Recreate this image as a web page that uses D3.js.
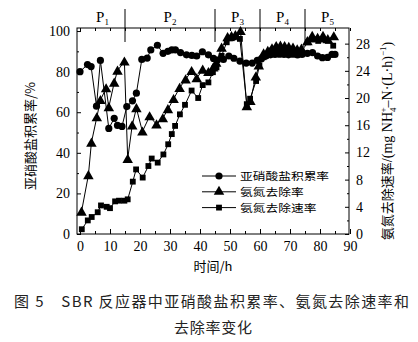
<!DOCTYPE html>
<html><head><meta charset="utf-8">
<script src="https://cdn.jsdelivr.net/npm/d3@7"></script>
<style>body{margin:0;background:#fff}svg{display:block}</style>
</head><body>
<script>
// ---- data ----
const nitriteTime = [0, 2.5, 3.7, 5.5, 6.8, 9.6, 11.4, 12.5, 14,
  15.6, 17.5, 18.8, 20.6, 22.4, 23.6, 25.8, 27.7, 29.3, 30.6, 31.8, 33.5, 35.5, 37.3, 38.9, 40.8, 42.8, 44.5,
  45.8, 47.8, 49.6, 51.3, 53.3, 55.4, 57.4, 59.1,
  60.5, 62, 63.5, 65, 66.5, 68, 69.5, 71, 72.5, 74,
  75.8, 77.5, 79.2, 80.8, 82.5, 84, 85];
const nitriteRate = [80, 83.5, 82.5, 63, 85.5, 52, 57, 53.5, 53,
  62.8, 65.6, 69.4, 86, 86.7, 90.7, 93, 89, 90, 90.7, 90.7, 89.4, 88.3, 88, 87.7, 89.8, 88.3, 86.5,
  85.7, 86, 87.7, 86.6, 85.2, 84.2, 84.2, 85.5,
  86.4, 87.7, 88.3, 88.5, 88.6, 88.5, 88.3, 88.6, 88.2, 88.5,
  89, 89.4, 87.7, 86.9, 87, 88.5, 88.5];
const removalTime = [0.5, 2.8, 3.8, 5.6, 6.8, 8.7, 9.6, 11.4, 12.5, 14.8,
  15.9, 17.4, 18.8, 20.8, 23.2, 25.5, 27.6, 29.3, 31.2, 33.2, 35.2, 37.2, 38.9, 40.9, 42.8, 44.4,
  45.4, 47.2, 49.2, 50.5, 51.8, 53.5, 55.6, 56.8, 58.6, 59.6,
  61.2, 62.6, 64, 65.4, 66.8, 68.2, 69.6, 71, 72.4, 73.8,
  75.8, 77.4, 79.2, 81, 82.6, 84.6];
const removalRate = [11, 29, 45, 57.5, 66, 71.8, 62.5, 74.6, 80.5, 85,
  37, 53.5, 62, 50.5, 58, 54, 57, 61.5, 66.5, 72, 76.2, 80.3, 76.7, 81, 79.8, 82,
  84.4, 91.8, 97, 97.5, 98, 100, 63, 65.6, 77.6, 83,
  89, 90.2, 91.5, 92.6, 92.8, 92.6, 92.2, 91.8, 91, 91.3,
  95, 97.6, 96.7, 97.6, 96, 97.4];
const speedTime = [0.6, 2.6, 3.9, 5.9, 7, 8.9, 10, 11.7, 13, 14.8,
  15.9, 17.6, 18.7, 20.9, 22.8, 23.9, 25.9, 27.8, 29.4, 30.6, 31.7, 33.3, 35, 37.2, 39.4, 40.9, 42.8, 44.3,
  45.5, 47.2, 48.9, 50.6, 52, 53.3, 55.6, 56.7, 58.7, 59.8,
  61.2, 62.6, 64, 65.4, 66.8, 68.2, 69.6, 71, 72.4, 73.8,
  76, 77.6, 79.4, 81, 82.6, 84.4];
const speedValue = [0.7, 2.0, 2.5, 3.2, 4.2, 4.0, 3.8, 4.8, 4.9, 4.9,
  5.1, 7.7, 9.5, 8.3, 10, 11.1, 10.5, 11.7, 13.2, 14.7, 15.9, 17.6, 19, 21.1, 20, 21.9, 22.3, 23.8,
  24.5, 26.2, 28.2, 28.8, 29, 28.7, 19.1, 19.9, 22.5, 24.8,
  26, 26.5, 27, 27.2, 27.2, 27.1, 27, 26.9, 26.8, 26.9,
  28.2, 28.6, 28.4, 28.6, 28.4, 27.7];
const xTicks = [0, 10, 20, 30, 40, 50, 60, 70, 80, 90];
const leftTicks = [0, 20, 40, 60, 80, 100];
const rightTicks = [0, 4, 8, 12, 16, 20, 24, 28];
const phaseBounds = [15, 45, 60, 75];
const phaseNames = ["1", "2", "3", "4", "5"];
const phaseCenters = [7.5, 30, 52.5, 67.5, 82.5];
const seriesNames = ["亚硝酸盐积累率", "氨氮去除率", "氨氮去除速率"];

// ---- drawing ----
const W = 418, H = 342;
const L = 77, R = 349, T = 28, B = 234;
const svg = d3.select("body").append("svg").attr("width", W).attr("height", H);
const x = d3.scaleLinear().domain([-1, 90]).range([L + 0, R + 1]);
const yL = d3.scaleLinear().domain([0, 101.5]).range([B, T]);
const yR = d3.scaleLinear().domain([0, 30.3]).range([B, T]);
const serif = "'Liberation Serif','Times New Roman',serif";
const cjk = "'Noto Sans CJK SC','Noto Sans CJK JP',sans-serif";

function styleAxis(g, size) {
  g.select(".domain").remove();
  g.selectAll("line").attr("stroke", "#000").attr("stroke-width", 1);
  g.selectAll("text").attr("font-family", serif).attr("font-size", size).attr("fill", "#000");
}
// bottom
const gB = svg.append("g").attr("transform", `translate(0,${B})`);
gB.call(d3.axisBottom(x).tickValues(xTicks).tickSizeInner(-5).tickSizeOuter(0).tickPadding(7).tickFormat(d3.format("d")));
styleAxis(gB, 14);
const gBm = svg.append("g").attr("transform", `translate(0,${B})`);
gBm.call(d3.axisBottom(x).tickValues(d3.range(5, 90, 10)).tickSizeInner(-3).tickSizeOuter(0).tickFormat(""));
styleAxis(gBm, 14);
// top
const gT = svg.append("g").attr("transform", `translate(0,${T})`);
gT.call(d3.axisTop(x).tickValues(d3.range(0, 91, 5)).tickSizeInner(-3).tickSizeOuter(0).tickFormat(""));
styleAxis(gT, 14);
// left
const gL = svg.append("g").attr("transform", `translate(${L},0)`);
gL.call(d3.axisLeft(yL).tickValues(leftTicks).tickSizeInner(-4).tickSizeOuter(0).tickPadding(7));
styleAxis(gL, 14);
const gLm = svg.append("g").attr("transform", `translate(${L},0)`);
gLm.call(d3.axisLeft(yL).tickValues(d3.range(10, 100, 20)).tickSizeInner(-2).tickSizeOuter(0).tickFormat(""));
styleAxis(gLm, 14);
// right
const gR = svg.append("g").attr("transform", `translate(${R},0)`);
gR.call(d3.axisRight(yR).tickValues(rightTicks).tickSizeInner(-4).tickSizeOuter(0).tickPadding(7));
styleAxis(gR, 14);
const gRm = svg.append("g").attr("transform", `translate(${R},0)`);
gRm.call(d3.axisRight(yR).tickValues(d3.range(2, 30, 4)).tickSizeInner(-2).tickSizeOuter(0).tickFormat(""));
styleAxis(gRm, 14);
// frame
svg.append("rect").attr("x", L).attr("y", T).attr("width", R - L).attr("height", B - T)
  .attr("fill", "none").attr("stroke", "#000").attr("stroke-width", 1);

// phase dividers and labels
svg.selectAll(".phase").data(phaseBounds).enter().append("line")
  .attr("x1", d => x(d)).attr("x2", d => x(d)).attr("y1", 9).attr("y2", 42)
  .attr("stroke", "#000").attr("stroke-width", 1);
phaseCenters.forEach((c, i) => {
  const t = svg.append("text").attr("x", x(c)).attr("y", 22).attr("text-anchor", "middle")
    .attr("font-family", serif).attr("font-size", 15).attr("fill", "#000");
  t.append("tspan").text("P");
  t.append("tspan").attr("font-size", 9).attr("dy", 3).text(phaseNames[i]);
});

// series
const line = (xs, ys, yScale) => d3.line()(xs.map((t, i) => [x(t), yScale(ys[i])]));
const gS = svg.append("g");
gS.append("path").attr("d", line(nitriteTime, nitriteRate, yL)).attr("fill", "none").attr("stroke", "#000").attr("stroke-width", 1);
gS.append("path").attr("d", line(removalTime, removalRate, yL)).attr("fill", "none").attr("stroke", "#000").attr("stroke-width", 1);
gS.append("path").attr("d", line(speedTime, speedValue, yR)).attr("fill", "none").attr("stroke", "#000").attr("stroke-width", 1);

const tri = d3.symbol().type(d3.symbolTriangle).size(48)();
const sq = d3.symbol().type(d3.symbolSquare).size(34)();
gS.selectAll(".c").data(nitriteTime).enter().append("circle")
  .attr("cx", d => x(d)).attr("cy", (d, i) => yL(nitriteRate[i])).attr("r", 3.6).attr("fill", "#000");
gS.selectAll(".t").data(removalTime).enter().append("path").attr("d", tri)
  .attr("transform", (d, i) => `translate(${x(d)},${yL(removalRate[i]) + 1})`).attr("fill", "#000");
gS.selectAll(".s").data(speedTime).enter().append("path").attr("d", sq)
  .attr("transform", (d, i) => `translate(${x(d)},${yR(speedValue[i])})`).attr("fill", "#000");

// legend
const legY = [176, 191.8, 207.6];
seriesNames.forEach((name, i) => {
  const g = svg.append("g");
  g.append("line").attr("x1", 202).attr("x2", 236).attr("y1", legY[i]).attr("y2", legY[i])
    .attr("stroke", "#000").attr("stroke-width", 1);
  if (i === 0) g.append("circle").attr("cx", 219).attr("cy", legY[i]).attr("r", 3.6).attr("fill", "#000");
  if (i === 1) g.append("path").attr("d", tri).attr("transform", `translate(219,${legY[i]})`).attr("fill", "#000");
  if (i === 2) g.append("path").attr("d", sq).attr("transform", `translate(219,${legY[i]})`).attr("fill", "#000");
  g.append("text").attr("transform", `translate(240,${legY[i] + 4}) scale(1.18,1)`)
    .attr("font-family", cjk).attr("font-size", 10.8)
    .attr("fill", "#000").text(name);
});

// axis titles
svg.append("text").attr("transform", "translate(35,136) rotate(-90)").attr("text-anchor", "middle")
  .attr("font-family", cjk).attr("font-size", 13).attr("fill", "#000").text("亚硝酸盐积累率/%");
const rt = svg.append("text").attr("transform", "translate(392,141) rotate(-90)").attr("text-anchor", "middle")
  .attr("font-family", serif).attr("font-size", 14).attr("fill", "#000");
rt.append("tspan").attr("font-family", cjk).attr("font-size", 13).text("氨氮去除速率");
rt.append("tspan").text("/(mg NH");
rt.append("tspan").attr("font-size", 9).attr("dy", 4).attr("dx", 0).text("4");
rt.append("tspan").attr("font-size", 9).attr("dy", -10).attr("dx", -5).text("+");
rt.append("tspan").attr("dy", 6).text("–N·(L·h)");
rt.append("tspan").attr("font-size", 9).attr("dy", -6).text("−1");
rt.append("tspan").attr("dy", 6).text(")");

svg.append("text").attr("x", 213).attr("y", 271).attr("text-anchor", "middle")
  .attr("font-family", cjk).attr("font-size", 13).attr("fill", "#000")
  .text("时间/h");

// caption
svg.append("text").attr("x", 14).attr("y", 307).attr("font-family", cjk).attr("font-size", 15)
  .attr("fill", "#222").attr("textLength", 395).attr("lengthAdjust", "spacing")
  .text("图 5　SBR 反应器中亚硝酸盐积累率、氨氮去除速率和");
svg.append("text").attr("x", 213).attr("y", 333).attr("text-anchor", "middle").attr("font-family", cjk)
  .attr("font-size", 15).attr("fill", "#222").attr("textLength", 78).attr("lengthAdjust", "spacing")
  .text("去除率变化");
</script>
</body></html>
